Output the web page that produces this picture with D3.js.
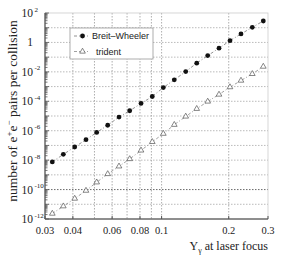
<!DOCTYPE html>
<html><head><meta charset="utf-8">
<script src="https://cdn.jsdelivr.net/npm/d3@7"></script>
<style>body{margin:0;background:#fff}svg{display:block}</style>
</head><body><svg id="c" width="291" height="259"></svg>
<script>
const upsilon = [0.03235,0.03625,0.04077,0.04581,0.05116,0.05732,0.06442,0.07194,0.08086,0.09083,0.1018,0.1140,0.1283,0.1437,0.1610,0.1809,0.2026,0.2270,0.2551,0.2858];
const breitWheeler = [7.6e-9,2.47e-8,7.85e-8,2.45e-7,7.67e-7,2.36e-6,8.5e-6,2.27e-5,7.1e-5,2.11e-4,8.6e-4,2.87e-3,1.05e-2,3.89e-2,0.127,0.404,1.32,3.77,10.7,28.7];
const trident = [2.34e-12,7.4e-12,2.45e-11,8.5e-11,3.13e-10,1.15e-9,3.8e-9,1.2e-8,4.6e-8,1.75e-7,6.3e-7,2.55e-6,9.3e-6,3.1e-5,9.7e-5,2.89e-4,9.2e-4,2.57e-3,7.3e-3,2.29e-2];
const xTickValues = [0.03,0.04,0.06,0.08,0.1,0.2,0.3];
const xTickLabels = ["0.03","0.04","0.06","0.08","0.1","0.2","0.3"];
const xGridValues = [0.04,0.05,0.06,0.07,0.08,0.09,0.1,0.2];
const yLabelExps = [2,0,-2,-4,-6,-8,-10,-12];
const seriesNames = ["Breit\u2013Wheeler","trident"];

const svg = d3.select("#c");
const L=45,R=268,T=13,B=219;
const x = d3.scaleLog().domain([0.03,0.3]).range([L,R]);
const y = d3.scaleLog().domain([1e-12,1e2]).range([B,T]);
const serif = "'Liberation Serif','DejaVu Serif',serif";

// grid
const g = svg.append("g");
g.selectAll(".vg").data(xGridValues).enter().append("line")
 .attr("x1",d=>x(d)).attr("x2",d=>x(d)).attr("y1",T).attr("y2",B)
 .attr("stroke","#999").attr("stroke-width",0.8).attr("stroke-dasharray","1.5,1.5");
const decades = d3.range(-11,2).map(e=>Math.pow(10,e));
g.selectAll(".hg").data(decades).enter().append("line")
 .attr("x1",L).attr("x2",R).attr("y1",d=>y(d)).attr("y2",d=>y(d))
 .attr("stroke",d=>Math.abs(Math.log10(d)+10)<0.01?"#444":"#aaa").attr("stroke-width",0.8).attr("stroke-dasharray","1.5,1.5");

// frame
svg.append("rect").attr("x",L).attr("y",T).attr("width",R-L).attr("height",B-T)
 .attr("fill","none").attr("stroke","#ccc").attr("stroke-width",0.8);
svg.append("line").attr("x1",L).attr("x2",L).attr("y1",T).attr("y2",B).attr("stroke","#333").attr("stroke-width",1);
svg.append("line").attr("x1",L).attr("x2",R).attr("y1",B).attr("y2",B).attr("stroke","#333").attr("stroke-width",1);

// left minor ticks (inward)
const minor=[];
for(let e=-12;e<2;e++){for(let k=1;k<10;k++){minor.push(k*Math.pow(10,e));}}
minor.push(100);
svg.selectAll(".mt").data(minor).enter().append("line")
 .attr("x1",L).attr("x2",d=>{const l=Math.log10(d);return Math.abs(l-Math.round(l))<1e-6?L+4:L+2.5;})
 .attr("y1",d=>y(d)).attr("y2",d=>y(d)).attr("stroke","#555").attr("stroke-width",0.8);

// y labels
const yl = svg.append("g").attr("font-family",serif).attr("fill","#222");
yLabelExps.forEach(e=>{
  const yy=y(Math.pow(10,e));
  if(e===0){
    yl.append("text").attr("x",33).attr("y",yy+4).attr("text-anchor","end").attr("font-size",11.5).text("1");
  } else {
    yl.append("text").attr("x",33).attr("y",yy+4).attr("text-anchor","end").attr("font-size",11.5).text("10");
    yl.append("text").attr("x",34.5).attr("y",yy-1.5).attr("font-size",7).text(e>0?String(e):"-"+String(-e));
  }
});

// x labels
const xl = svg.append("g").attr("font-family",serif).attr("font-size",10.5).attr("fill","#222");
xTickValues.forEach((v,i)=>{
  xl.append("text").attr("x",x(v)).attr("y",234).attr("text-anchor","middle").text(xTickLabels[i]);
  svg.append("line").attr("x1",x(v)).attr("x2",x(v)).attr("y1",B).attr("y2",B-3).attr("stroke","#555");
});

// axis titles
const xt = svg.append("text").attr("x",R).attr("y",250).attr("text-anchor","end")
 .attr("font-family",serif).attr("font-size",12).attr("fill","#222");
xt.append("tspan").text("\u03A5");
xt.append("tspan").attr("font-size",8).attr("dy",3).text("\u03B3");
xt.append("tspan").attr("dy",-3).text(" at laser focus");

const yt = svg.append("text").attr("transform","translate(17,111) rotate(-90)").attr("text-anchor","middle")
 .attr("font-family",serif).attr("font-size",13.5).attr("fill","#222");
yt.append("tspan").text("number of e");
yt.append("tspan").attr("font-size",9).attr("dy",-5).text("+");
yt.append("tspan").attr("dy",5).text("e");
yt.append("tspan").attr("font-size",9).attr("dy",-5).text("\u2212");
yt.append("tspan").attr("dy",5).text("  pairs per collision");

// series lines
const line = d3.line().x(d=>x(d[0])).y(d=>y(d[1]));
const bwData = upsilon.map((u,i)=>[u,breitWheeler[i]]);
const trData = upsilon.map((u,i)=>[u,trident[i]]);
svg.append("path").datum(bwData).attr("d",line).attr("fill","none").attr("stroke","#777").attr("stroke-width",0.8).attr("stroke-dasharray","3,2,1,2");
svg.append("path").datum(trData).attr("d",line).attr("fill","none").attr("stroke","#888").attr("stroke-width",0.8).attr("stroke-dasharray","3,2,1,2");

svg.selectAll(".bw").data(bwData).enter().append("circle")
 .attr("cx",d=>x(d[0])).attr("cy",d=>y(d[1])).attr("r",2.4).attr("fill","#111");
const tri = d3.symbol().type(d3.symbolTriangle).size(14);
svg.selectAll(".tr").data(trData).enter().append("path")
 .attr("d",tri).attr("transform",d=>`translate(${x(d[0])},${y(d[1])})`)
 .attr("fill","#fff").attr("stroke","#555").attr("stroke-width",0.7);

// legend
const lg = svg.append("g");
lg.append("rect").attr("x",70).attr("y",28).attr("width",83).attr("height",31).attr("fill","#fff").attr("stroke","#999").attr("stroke-width",0.8);
lg.append("line").attr("x1",74).attr("x2",90).attr("y1",36).attr("y2",36).attr("stroke","#777").attr("stroke-width",0.8).attr("stroke-dasharray","3,2,1,2");
lg.append("circle").attr("cx",82.5).attr("cy",36).attr("r",2.4).attr("fill","#111");
lg.append("line").attr("x1",74).attr("x2",90).attr("y1",51.5).attr("y2",51.5).attr("stroke","#888").attr("stroke-width",0.8).attr("stroke-dasharray","3,2,1,2");
lg.append("path").attr("d",tri).attr("transform","translate(82.5,51.5)").attr("fill","#fff").attr("stroke","#555").attr("stroke-width",0.7);
lg.append("text").attr("x",92).attr("y",39).attr("font-family","'Liberation Sans',Arial,sans-serif").attr("font-size",9).attr("fill","#222").text(seriesNames[0]);
lg.append("text").attr("x",96).attr("y",54.5).attr("font-family","'Liberation Sans',Arial,sans-serif").attr("font-size",9).attr("fill","#222").text(seriesNames[1]);
</script></body></html>
